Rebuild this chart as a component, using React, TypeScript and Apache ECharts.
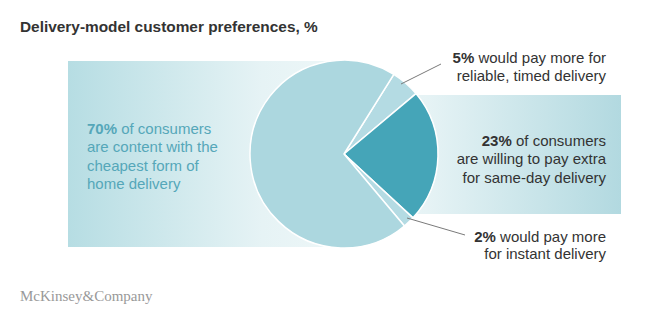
import React, { useEffect, useRef } from "react";
import * as echarts from "echarts";

const categories = ["reliable, timed", "same-day", "instant", "cheapest"];
const values = [5, 23, 2, 70];
const sliceColors = ["#b4dbe3", "#45a5b8", "#b4dbe3", "#acd7df"];
const leftText = ["of consumers", "are content with the", "cheapest form of", "home delivery"];
const sameDayText = ["of consumers", "are willing to pay extra", "for same-day delivery"];
const timedText = ["would pay more for", "reliable, timed delivery"];
const instantText = ["would pay more", "for instant delivery"];
const titleText = "Delivery-model customer preferences, %";
const footerText = "McKinsey&Company";

const FONT = "'Liberation Sans', Arial, Helvetica, sans-serif";

function richLines(value: number, lines: string[]) {
  return `{b|${value}%} ${lines[0]}\n` + lines.slice(1).join("\n");
}

export default function App() {
  const ref = useRef<HTMLDivElement>(null);
  useEffect(() => {
    if (!ref.current) return;
    const chart = echarts.init(ref.current, undefined, { renderer: "svg" });
    const option: any = {
      animation: false,
      backgroundColor: "#ffffff",
      graphic: [
        {
          type: "rect",
          z: 0,
          shape: { x: 68, y: 61, width: 277, height: 186 },
          style: {
            fill: new echarts.graphic.LinearGradient(0, 0, 1, 0, [
              { offset: 0, color: "#b6dde3" },
              { offset: 0.7, color: "#e6f3f5" },
              { offset: 1, color: "#eef7f8" },
            ]),
          },
        },
        {
          type: "rect",
          z: 0,
          shape: { x: 344, y: 95, width: 277, height: 119 },
          style: {
            fill: new echarts.graphic.LinearGradient(0, 0, 1, 0, [
              { offset: 0, color: "#f2f9fa" },
              { offset: 0.3, color: "#e6f3f5" },
              { offset: 1, color: "#b2d9e0" },
            ]),
          },
        },
        {
          type: "text",
          z: 10,
          left: 20,
          top: 19,
          style: {
            text: titleText,
            font: `bold 15.4px ${FONT}`,
            fill: "#333333",
          },
        },
        {
          type: "text",
          z: 10,
          x: 87,
          y: 119,
          style: {
            text: richLines(values[3], leftText),
            font: `15px ${FONT}`,
            fill: "#55a7b9",
            lineHeight: 18.5,
            align: "left",
            verticalAlign: "top",
            rich: { b: { fontWeight: "bold", fontSize: 15, fontFamily: FONT, fill: "#55a7b9" } },
          },
        },
        {
          type: "text",
          z: 10,
          x: 606,
          y: 48,
          style: {
            text: richLines(values[0], timedText),
            font: `15px ${FONT}`,
            fill: "#333333",
            lineHeight: 18,
            align: "right",
            verticalAlign: "top",
            rich: { b: { fontWeight: "bold", fontSize: 15, fontFamily: FONT, fill: "#333333" } },
          },
        },
        {
          type: "text",
          z: 10,
          x: 606,
          y: 131,
          style: {
            text: richLines(values[1], sameDayText),
            font: `15px ${FONT}`,
            fill: "#333333",
            lineHeight: 18.5,
            align: "right",
            verticalAlign: "top",
            rich: { b: { fontWeight: "bold", fontSize: 15, fontFamily: FONT, fill: "#333333" } },
          },
        },
        {
          type: "text",
          z: 10,
          x: 606,
          y: 228,
          style: {
            text: richLines(values[2], instantText),
            font: `15px ${FONT}`,
            fill: "#333333",
            lineHeight: 17,
            align: "right",
            verticalAlign: "top",
            rich: { b: { fontWeight: "bold", fontSize: 15, fontFamily: FONT, fill: "#333333" } },
          },
        },
        {
          type: "line",
          z: 10,
          shape: { x1: 401, y1: 84, x2: 441, y2: 64 },
          style: { stroke: "#7a7a7a", lineWidth: 1 },
        },
        {
          type: "line",
          z: 10,
          shape: { x1: 407, y1: 218, x2: 465, y2: 235 },
          style: { stroke: "#7a7a7a", lineWidth: 1 },
        },
        {
          type: "text",
          z: 10,
          left: 20,
          top: 288,
          style: {
            text: footerText,
            font: `15px 'Liberation Serif', 'Times New Roman', serif`,
            fill: "#999999",
          },
        },
      ],
      series: [
        {
          type: "pie",
          z: 2,
          center: [344, 154],
          radius: 94,
          startAngle: 58,
          clockwise: true,
          label: { show: false },
          labelLine: { show: false },
          emphasis: { disabled: true },
          itemStyle: { borderColor: "#ffffff", borderWidth: 1.5 },
          data: categories.map((c, i) => ({
            name: c,
            value: values[i],
            itemStyle: { color: sliceColors[i] },
          })),
        },
      ],
    };
    chart.setOption(option);
    return () => chart.dispose();
  }, []);
  return (
    <div
      ref={ref}
      style={{ position: "fixed", left: 0, top: 0, width: 658, height: 332 }}
    />
  );
}
